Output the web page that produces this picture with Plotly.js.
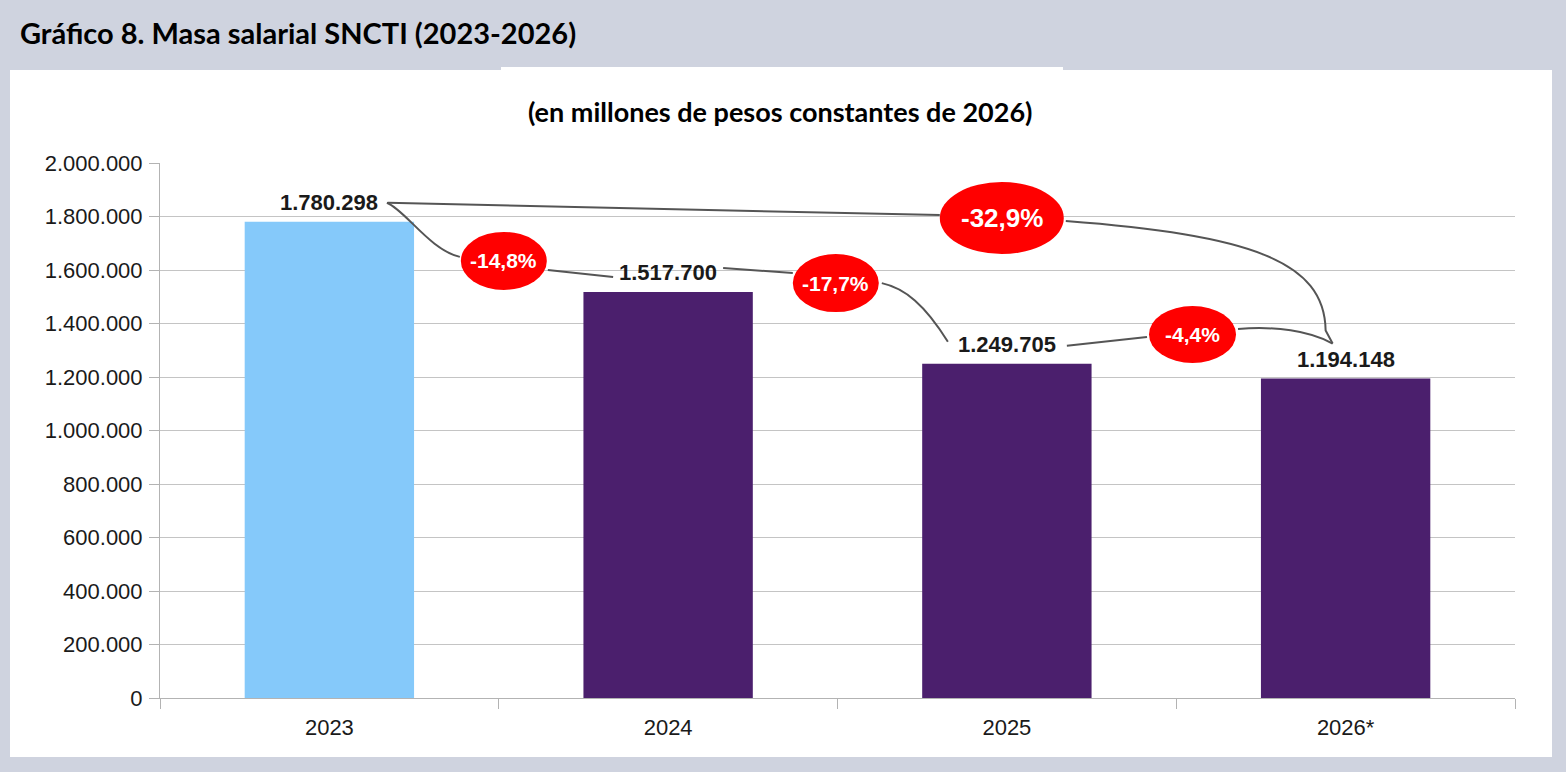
<!DOCTYPE html>
<html>
<head>
<meta charset="utf-8">
<script src="https://cdn.plot.ly/plotly-3.0.1.min.js"></script>
<style>
  html, body { margin: 0; padding: 0; background: #cfd3df; }
  #chart { width: 1566px; height: 772px; }
</style>
</head>
<body>
<div id="chart"></div>
<script>
/* ── data ── */
const years        = ['2023', '2024', '2025', '2026*'];
const masaSalarial = [1780298, 1517700, 1249705, 1194148];
const barColors    = ['#85c9fa', '#4b1f6d', '#4b1f6d', '#4b1f6d'];
const variaciones  = ['-14,8%', '-17,7%', '-32,9%', '-4,4%'];
const yTickVals    = [0, 200000, 400000, 600000, 800000, 1000000, 1200000, 1400000, 1600000, 1800000, 2000000];

/* ── geometry ── */
const W = 1566, H = 772;
const M = { l: 160, r: 51, t: 163, b: 74 };
const PLOT_W = W - M.l - M.r;
const PLOT_H = H - M.t - M.b;
const Y_MAX = 2000000;

const pxX = p => p * years.length / PLOT_W;
const pxY = p => p * Y_MAX / PLOT_H;
// offset a data point by screen pixels (dy positive = down)
const at = (pt, dx, dy) => [pt[0] + pxX(dx), pt[1] - pxY(dy)];
const barTop = i => [i, masaSalarial[i]];
const paperX = px => (px - M.l) / PLOT_W;
const paperY = py => (H - M.b - py) / PLOT_H;

const fmt = v => String(v).replace(/\B(?=(\d{3})+(?!\d))/g, '.');

// red badges with the variation
const BADGES = [
  { text: variaciones[0], x: 0.515, y: 1634000, rx: 43, ry: 29, size: 21 },
  { text: variaciones[1], x: 1.495, y: 1551000, rx: 43, ry: 29, size: 21 },
  { text: variaciones[2], x: 1.985, y: 1794000, rx: 62, ry: 36, size: 26 },
  { text: variaciones[3], x: 2.548, y: 1359000, rx: 43.5, ry: 28.5, size: 21 },
];
const badge = k => [BADGES[k].x, BADGES[k].y];

const pt = p => `${p[0]},${p[1]}`;
function curve(from, to, c1, c2, tail) {
  const a = at(from, c1[0], c1[1]);
  const b = at(to, c2[0], c2[1]);
  let d = `M ${pt(from)} C ${pt(a)} ${pt(b)} ${pt(to)}`;
  if (tail) d += ` L ${pt(tail)}`;
  return d;
}
const line = (from, to) => `M ${pt(from)} L ${pt(to)}`;

const l3Top = at(barTop(3), -13, -35);
const connectors = [
  curve(at(barTop(0), 57.5, -19), at(badge(0), -44, -4), [18, 7], [-30, -7]),
  line(at(badge(0), 44, 9), at(barTop(1), -55, -15)),
  line(at(barTop(1), 55, -24), at(badge(1), -43, -10)),
  curve(at(badge(1), 46, 0), at(barTop(2), -59, -22), [23, 5], [-23, -37]),
  line(at(barTop(0), 58.5, -19), at(badge(2), -62, -3)),
  curve(at(badge(2), 64, 3), at(barTop(3), -20, -48), [184, 14], [-1, -70], l3Top),
  line(at(barTop(2), 60, -18), at(badge(3), -45.5, 2.5)),
  curve(at(badge(3), 45.5, -5.5), l3Top, [37, -3], [-23, -13]),
];

const shapes = [
  // white panel
  { type: 'rect', xref: 'paper', yref: 'paper', layer: 'below',
    x0: paperX(10), x1: paperX(1552), y0: paperY(757), y1: paperY(70),
    fillcolor: '#ffffff', line: { width: 0 } },
  { type: 'rect', xref: 'paper', yref: 'paper', layer: 'below',
    x0: paperX(501), x1: paperX(1063), y0: paperY(71), y1: paperY(67),
    fillcolor: '#ffffff', line: { width: 0 } },
];
connectors.forEach(d => shapes.push({
  type: 'path', xref: 'x', yref: 'y', layer: 'above', path: d,
  line: { color: '#555555', width: 2 },
}));
BADGES.forEach(b => shapes.push({
  type: 'circle', xref: 'x', yref: 'y', layer: 'above',
  xsizemode: 'pixel', ysizemode: 'pixel', xanchor: b.x, yanchor: b.y,
  x0: -b.rx, x1: b.rx, y0: -b.ry, y1: b.ry,
  fillcolor: '#ff0000', line: { width: 0 },
}));

const annotations = [
  { xref: 'paper', yref: 'paper', x: paperX(780), y: paperY(112),
    xanchor: 'center', yanchor: 'middle', showarrow: false,
    text: '<b>(en millones de pesos constantes de 2026)</b>',
    font: { family: 'Lato, sans-serif', size: 27, color: '#000000' } },
];
masaSalarial.forEach((v, i) => annotations.push({
  x: i, y: v, xanchor: 'center', yanchor: 'bottom', yshift: 5, showarrow: false,
  text: `<b>${fmt(v)}</b>`,
  font: { family: 'Liberation Sans, Arial, sans-serif', size: 22, color: '#1a1a1a' },
}));
BADGES.forEach(b => annotations.push({
  x: b.x, y: b.y, xanchor: 'center', yanchor: 'middle', showarrow: false,
  text: `<b>${b.text}</b>`,
  font: { family: 'Liberation Sans, Arial, sans-serif', size: b.size, color: '#ffffff' },
}));

const traces = [{
  type: 'bar',
  x: years,
  y: masaSalarial,
  width: 0.5,
  marker: { color: barColors, line: { width: 0 } },
  hoverinfo: 'skip',
}];

const layout = {
  width: W, height: H,
  paper_bgcolor: '#cfd3df',
  plot_bgcolor: 'rgba(0,0,0,0)',
  margin: M,
  separators: ',.',
  showlegend: false,
  title: {
    text: '<b>Gráfico 8. Masa salarial SNCTI (2023-2026)</b>',
    font: { family: 'Lato, sans-serif', size: 29, color: '#000000' },
    xref: 'container', yref: 'container',
    x: 20 / W, xanchor: 'left', y: 1 - 34 / H, yanchor: 'middle',
  },
  xaxis: {
    type: 'category',
    tickson: 'boundaries',
    ticks: 'outside', ticklen: 10, tickcolor: '#b3b3b3', tickwidth: 1,
    ticklabelstandoff: 10,
    showline: true, linecolor: '#b3b3b3', linewidth: 1,
    showgrid: false, zeroline: false,
    tickfont: { family: 'Liberation Sans, Arial, sans-serif', size: 22, color: '#1a1a1a' },
  },
  yaxis: {
    range: [0, Y_MAX],
    tickmode: 'array', tickvals: yTickVals,
    tickformat: ',d',
    ticks: 'outside', ticklen: 10, tickcolor: '#b3b3b3', tickwidth: 1,
    ticklabelstandoff: 2,
    showline: true, linecolor: '#b3b3b3', linewidth: 1,
    gridcolor: '#c4c4c4', gridwidth: 1, zeroline: false,
    tickfont: { family: 'Liberation Sans, Arial, sans-serif', size: 22, color: '#1a1a1a' },
  },
  shapes,
  annotations,
};

Plotly.newPlot('chart', traces, layout, { displayModeBar: false, staticPlot: true });
</script>
</body>
</html>
